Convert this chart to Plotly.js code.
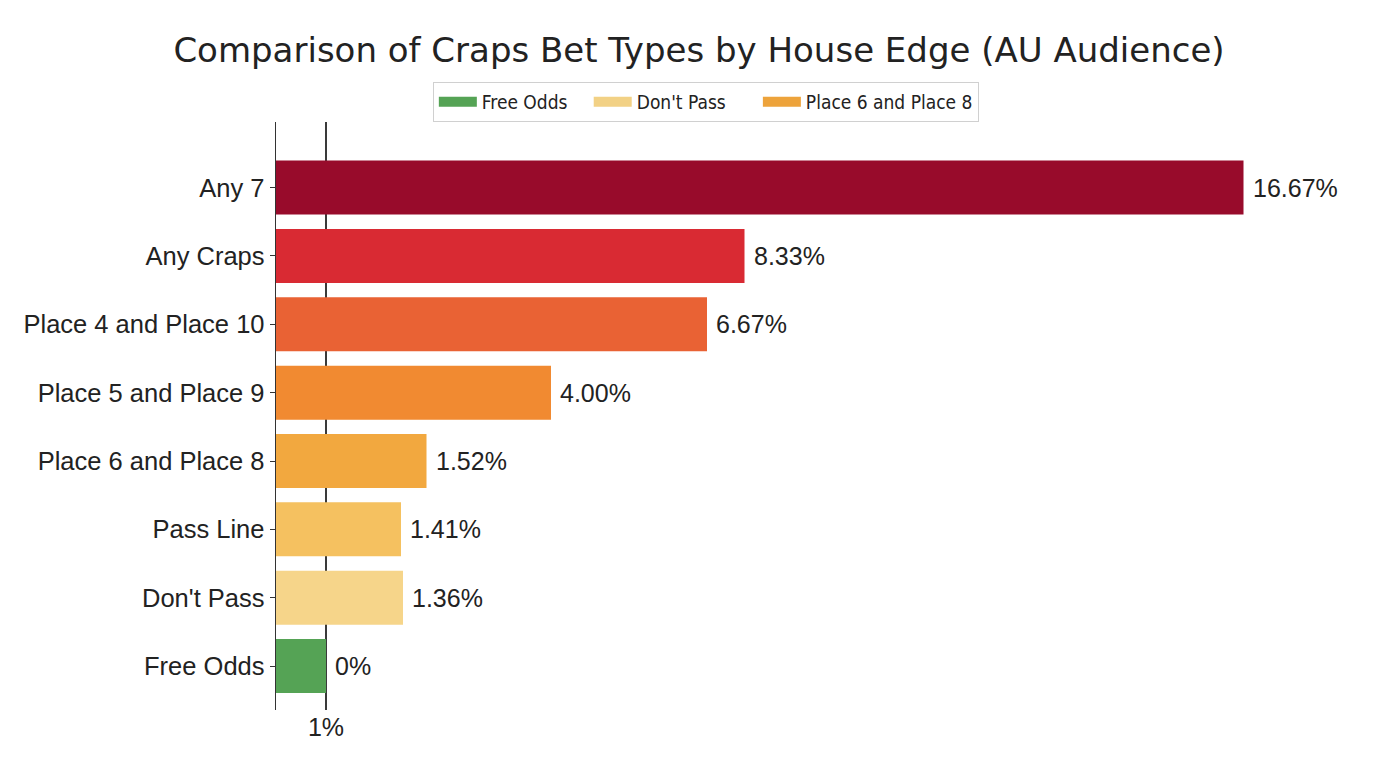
<!DOCTYPE html>
<html>
<head>
<meta charset="utf-8">
<script src="https://cdn.plot.ly/plotly-3.0.1.min.js"></script>
<style>
  html, body { margin: 0; padding: 0; background: #ffffff; }
  #chart { width: 1376px; height: 768px; }
</style>
</head>
<body>
<div id="chart"></div>
<script>
// bets from bottom to top of the chart
let betNames = ['Free Odds', "Don't Pass", 'Pass Line', 'Place 6 and Place 8',
                'Place 5 and Place 9', 'Place 4 and Place 10', 'Any Craps', 'Any 7'];
// bar lengths as drawn against the 1% tick
let barLengths = [1.0, 2.54, 2.5, 3.01, 5.5, 8.62, 9.37, 19.35];
// house edge printed next to each bar
let edgeLabels = ['0%', '1.36%', '1.41%', '1.52%', '4.00%', '6.67%', '8.33%', '16.67%'];
let barColors = ['#55a355', '#f6d58a', '#f5c160', '#f2a83f',
                 '#f18a31', '#e96234', '#d92a33', '#980b2b'];
let legendNames = ['Free Odds', "Don't Pass", 'Place 6 and Place 8'];
let legendColors = ['#55a355', '#f2d185', '#eda33b'];
let legendPad = ['\u00a0\u00a0\u00a0', '\u00a0\u00a0\u00a0\u00a0\u00a0', ''];

let chart = document.getElementById('chart');

let data = [];
for (let i = 0; i < betNames.length; i++) {
    data.push({
        type: 'bar',
        orientation: 'h',
        name: betNames[i],
        x: [barLengths[i]],
        y: [betNames[i]],
        width: 0.79,
        marker: { color: barColors[i], line: { width: 0 } },
        showlegend: false,
        hoverinfo: 'x+y'
    });
}

// legend keys drawn as wide swatches, no marks on the plot
for (let i = 0; i < legendNames.length; i++) {
    data.push({
        type: 'scatter',
        mode: 'lines',
        name: legendNames[i] + legendPad[i],
        x: [null],
        y: [null],
        line: { color: legendColors[i], width: 16 },
        showlegend: true,
        hoverinfo: 'skip'
    });
}

// value labels just right of each bar
let labels = [];
for (let i = 0; i < betNames.length; i++) {
    labels.push({
        x: barLengths[i],
        y: betNames[i],
        xref: 'x',
        yref: 'y',
        text: edgeLabels[i],
        showarrow: false,
        xanchor: 'left',
        yanchor: 'middle',
        xshift: 7,
        font: { family: 'Liberation Sans, Arial, sans-serif', size: 25, color: '#222222' }
    });
}

let layout = {
    width: 1376,
    height: 768,
    paper_bgcolor: '#ffffff',
    plot_bgcolor: '#ffffff',
    margin: { l: 276, r: 20, t: 122, b: 58 },
    barmode: 'overlay',
    title: {
        text: 'Comparison of Craps Bet Types by House Edge (AU Audience)',
        x: 0.508,
        xanchor: 'center',
        y: 0.935,
        yanchor: 'middle',
        font: { family: 'DejaVu Sans, sans-serif', size: 34, color: '#222222' }
    },
    legend: {
        orientation: 'h',
        x: 0.398,
        xanchor: 'center',
        y: 1.068,
        yanchor: 'top',
        traceorder: 'normal',
        itemwidth: 38,
        bordercolor: '#d0d0d0',
        borderwidth: 1,
        bgcolor: '#ffffff',
        font: { family: 'DejaVu Sans Condensed, sans-serif', size: 19, color: '#222222' }
    },
    xaxis: {
        range: [0, 21.6],
        tickvals: [1],
        ticktext: ['1%'],
        showgrid: true,
        gridcolor: '#3a3a3a',
        gridwidth: 1.4,
        zeroline: false,
        showline: false,
        ticks: '',
        tickfont: { family: 'Liberation Sans, Arial, sans-serif', size: 25, color: '#222222' }
    },
    yaxis: {
        type: 'category',
        categoryorder: 'array',
        categoryarray: betNames,
        range: [-0.643, 7.96],
        showline: true,
        linecolor: '#333333',
        linewidth: 1.4,
        ticks: 'outside',
        ticklen: 5,
        tickcolor: '#333333',
        showgrid: false,
        zeroline: false,
        tickfont: { family: 'Liberation Sans, Arial, sans-serif', size: 25.5, color: '#222222' }
    },
    annotations: labels
};

Plotly.newPlot(chart, data, layout, { displayModeBar: false, staticPlot: true });
</script>
</body>
</html>
